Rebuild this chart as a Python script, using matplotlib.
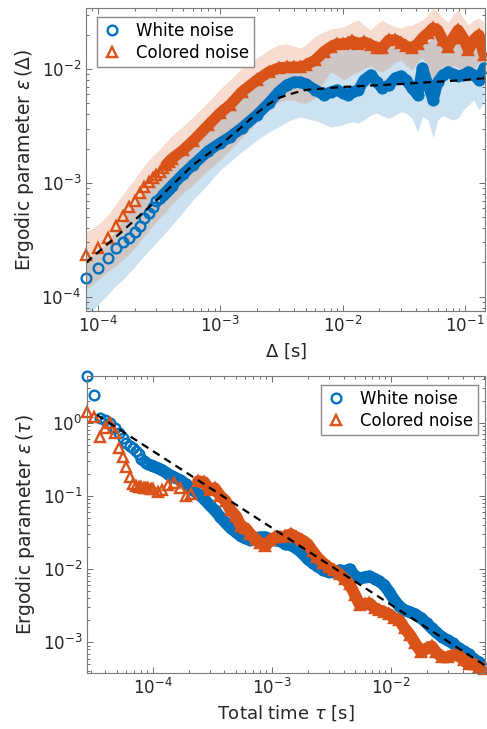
import matplotlib
matplotlib.use("Agg")
import matplotlib.pyplot as plt
import numpy as np

# ---- top panel: epsilon(Delta) ----
delta = [8e-5, 1e-4, 1.2e-4, 1.4e-4, 1.6e-4, 1.8e-4, 2e-4, 2.2e-4, 2.4e-4, 2.6e-4, 2.8e-4,
         3e-4, 3.2e-4, 3.4e-4, 3.6e-4, 3.8e-4, 4e-4,
         5e-4, 6e-4, 8e-4, 1e-3, 1.2e-3, 1.5e-3, 2e-3, 2.5e-3, 3e-3, 3.5e-3, 4e-3, 4.5e-3,
         5e-3, 6e-3, 7e-3, 8e-3, 9e-3, 1e-2, 1.1e-2, 1.2e-2, 1.35e-2, 1.5e-2, 1.7e-2, 1.9e-2,
         2.1e-2, 2.4e-2, 2.7e-2, 3e-2, 3.3e-2, 3.7e-2, 4.1e-2, 4.5e-2, 5e-2, 5.5e-2, 6e-2,
         6.6e-2, 7.3e-2, 8e-2, 8.8e-2, 9.7e-2, 0.107, 0.118, 0.13, 0.143]

white_delta = [1.47e-4, 1.8e-4, 2.2e-4, 2.69e-4, 3.03e-4, 3.3e-4, 3.72e-4, 4.2e-4, 4.93e-4, 5.46e-4, 6.15e-4,
               6.95e-4, 7.39e-4, 7.85e-4, 8.34e-4, 8.86e-4, 9.4e-4,
               1.2e-3, 1.44e-3, 1.91e-3, 2.24e-3, 2.53e-3, 3.04e-3, 3.95e-3, 5.03e-3, 6.28e-3, 7.24e-3,
               7.69e-3, 7.69e-3, 7.38e-3, 6.55e-3, 5.91e-3, 6.28e-3, 6.55e-3, 6.15e-3, 5.91e-3, 6.28e-3,
               6.55e-3, 8.0e-3, 8.86e-3, 7.69e-3, 6.81e-3, 7.24e-3, 8.34e-3, 8.68e-3, 8.0e-3, 6.81e-3,
               5.91e-3, 1.02e-2, 7.24e-3, 5.35e-3, 7.69e-3, 8.86e-3, 9.42e-3, 9.0e-3, 8.68e-3, 8.86e-3,
               9.42e-3, 8.86e-3, 8.0e-3, 1.02e-2]
white_delta_lo = [6.5e-5, 8.5e-5, 1.04e-4, 1.25e-4, 1.41e-4, 1.62e-4, 1.83e-4, 2.07e-4, 2.29e-4, 2.53e-4, 2.75e-4,
                  2.98e-4, 3.23e-4, 3.43e-4, 3.72e-4, 3.95e-4, 4.2e-4,
                  5.57e-4, 7.1e-4, 9.8e-4, 1.3e-3, 1.53e-3, 1.87e-3, 2.38e-3, 2.8e-3, 3.1e-3, 3.43e-3,
                  3.64e-3, 3.79e-3, 3.7e-3, 3.5e-3, 3.3e-3, 3.1e-3, 3.16e-3, 3.23e-3, 3.36e-3, 3.43e-3,
                  3.36e-3, 3.57e-3, 3.95e-3, 4.11e-3, 3.87e-3, 3.7e-3, 3.95e-3, 4.2e-3, 4.11e-3, 3.7e-3,
                  2.8e-3, 3.79e-3, 3.57e-3, 2.48e-3, 3.57e-3, 3.87e-3, 3.7e-3, 3.57e-3, 3.7e-3, 4.37e-3,
                  4.83e-3, 5.35e-3, 4.37e-3, 5.03e-3]
white_delta_hi = [2.15e-4, 2.48e-4, 3.04e-4, 3.86e-4, 4.73e-4, 5.67e-4, 6.4e-4, 7.5e-4, 8.5e-4, 9.4e-4, 1.02e-3,
                  1.08e-3, 1.15e-3, 1.24e-3, 1.32e-3, 1.41e-3, 1.49e-3,
                  1.8e-3, 2.15e-3, 2.9e-3, 3.7e-3, 4.4e-3, 5.7e-3, 7.3e-3, 8.6e-3, 9.3e-3, 9.5e-3,
                  9.5e-3, 9.5e-3, 9.8e-3, 1.08e-2, 1.25e-2, 1.38e-2, 1.45e-2, 1.45e-2, 1.48e-2, 1.52e-2,
                  1.45e-2, 1.5e-2, 1.45e-2, 1.38e-2, 1.36e-2, 1.55e-2, 1.58e-2, 1.5e-2, 1.42e-2, 1.38e-2,
                  1.45e-2, 1.62e-2, 1.75e-2, 1.9e-2, 1.85e-2, 1.6e-2, 1.45e-2, 1.62e-2, 1.85e-2, 1.62e-2,
                  1.38e-2, 1.58e-2, 1.7e-2, 1.25e-2]

colored_delta = [2.33e-4, 2.69e-4, 3.3e-4, 4.2e-4, 5.14e-4, 6.16e-4, 6.95e-4, 8.17e-4, 9.23e-4, 1.02e-3, 1.11e-3,
                 1.17e-3, 1.25e-3, 1.35e-3, 1.44e-3, 1.53e-3, 1.62e-3,
                 1.95e-3, 2.34e-3, 3.22e-3, 4.11e-3, 4.83e-3, 6.28e-3, 8.0e-3, 9.42e-3, 1.02e-2, 1.04e-2,
                 1.04e-2, 1.04e-2, 1.08e-2, 1.2e-2, 1.41e-2, 1.56e-2, 1.66e-2, 1.66e-2, 1.69e-2, 1.76e-2,
                 1.66e-2, 1.73e-2, 1.63e-2, 1.53e-2, 1.53e-2, 1.8e-2, 1.8e-2, 1.69e-2, 1.59e-2, 1.53e-2,
                 1.66e-2, 1.87e-2, 2.07e-2, 2.29e-2, 2.2e-2, 1.8e-2, 1.56e-2, 1.87e-2, 2.2e-2, 1.87e-2,
                 1.47e-2, 1.8e-2, 1.99e-2, 1.33e-2]
colored_delta_lo = [1.15e-4, 1.41e-4, 1.66e-4, 1.87e-4, 2.11e-4, 2.38e-4, 2.69e-4, 3.04e-4, 3.43e-4, 3.79e-4, 4.2e-4,
                    4.55e-4, 4.93e-4, 5.24e-4, 5.57e-4, 6.04e-4, 6.41e-4,
                    8.17e-4, 9.6e-4, 1.3e-3, 1.59e-3, 1.95e-3, 2.48e-3, 3.43e-3, 4.37e-3, 5.14e-3, 5.35e-3,
                    5.35e-3, 5.03e-3, 5.03e-3, 5.57e-3, 7.69e-3, 9.42e-3, 8.86e-3, 8.0e-3, 8.34e-3, 9.0e-3,
                    9.42e-3, 1.02e-2, 1.06e-2, 9.8e-3, 9.42e-3, 1.02e-2, 1.15e-2, 1.2e-2, 1.08e-2, 9.8e-3,
                    1.15e-2, 1.25e-2, 9.8e-3, 8.0e-3, 9.42e-3, 1.06e-2, 9.8e-3, 1.08e-2, 1.02e-2, 8.34e-3,
                    7.69e-3, 9.8e-3, 1.15e-2, 9.8e-3]
colored_delta_hi = [3.7e-4, 4.3e-4, 5.2e-4, 6.5e-4, 7.9e-4, 9.4e-4, 1.08e-3, 1.25e-3, 1.42e-3, 1.58e-3, 1.72e-3,
                    1.84e-3, 1.97e-3, 2.12e-3, 2.27e-3, 2.42e-3, 2.57e-3,
                    3.16e-3, 3.79e-3, 5.14e-3, 6.68e-3, 8.0e-3, 1.02e-2, 1.25e-2, 1.47e-2, 1.63e-2, 1.66e-2,
                    1.59e-2, 1.53e-2, 1.63e-2, 1.95e-2, 2.11e-2, 2.24e-2, 2.29e-2, 2.34e-2, 2.43e-2, 2.58e-2,
                    2.69e-2, 2.43e-2, 2.2e-2, 2.48e-2, 2.69e-2, 2.48e-2, 2.34e-2, 2.29e-2, 2.38e-2, 2.43e-2,
                    2.58e-2, 2.69e-2, 2.98e-2, 3.43e-2, 3.16e-2, 2.8e-2, 2.58e-2, 2.98e-2, 3.3e-2, 2.8e-2,
                    2.43e-2, 2.69e-2, 2.8e-2, 2.58e-2]

theory_delta_x = [8e-5, 1.5e-4, 3e-4, 6e-4, 1e-3, 1.5e-3, 2e-3, 2.5e-3, 3e-3, 4e-3, 5e-3, 1e-2, 3e-2, 0.1, 0.15]
theory_delta_y = [1.99e-4, 3.57e-4, 6.98e-4, 1.44e-3, 2.15e-3, 3.1e-3, 4.11e-3, 4.93e-3, 5.57e-3, 6.15e-3,
                  6.55e-3, 6.95e-3, 7.38e-3, 8.0e-3, 8.34e-3]

# ---- bottom panel: epsilon(tau) ----
tau = [2.8e-5, 3.2e-5, 3.6e-5, 4.0e-5, 4.4e-5, 4.8e-5, 5.2e-5, 5.6e-5, 6.0e-5, 6.4e-5, 6.8e-5, 7.2e-5,
       7.6e-5, 8.0e-5, 8.4e-5, 8.8e-5, 9.2e-5, 9.6e-5,
       1e-4, 1.1e-4, 1.2e-4, 1.35e-4, 1.5e-4, 1.7e-4, 1.9e-4, 2.1e-4, 2.4e-4, 2.7e-4,
       3e-4, 3.3e-4, 3.7e-4, 4.1e-4, 4.5e-4, 5e-4, 5.5e-4, 6e-4, 6.6e-4, 7.3e-4,
       8e-4, 8.8e-4, 9.7e-4, 1.07e-3, 1.18e-3, 1.3e-3, 1.45e-3, 1.6e-3, 1.8e-3, 2e-3,
       2.2e-3, 2.4e-3, 2.7e-3, 3e-3, 3.3e-3, 3.7e-3, 4.1e-3, 4.5e-3, 5e-3, 5.5e-3,
       6e-3, 6.6e-3, 7.3e-3, 8e-3, 8.8e-3, 9.7e-3, 1.07e-2, 1.18e-2, 1.3e-2, 1.45e-2,
       1.6e-2, 1.8e-2, 2e-2, 2.2e-2, 2.4e-2, 2.7e-2, 3e-2, 3.3e-2, 3.7e-2, 4.1e-2,
       4.5e-2, 5e-2, 5.5e-2, 6.1e-2]

white_tau = [4.4, 2.42, 1.17, 1.1, 1.0, 0.855, 0.73, 0.623, 0.532, 0.484, 0.455, 0.413,
             0.376, 0.321, 0.302, 0.283, 0.275, 0.265,
             0.258, 0.242, 0.227, 0.2, 0.182, 0.166, 0.146, 0.125, 0.107, 0.091,
             0.0753, 0.0643, 0.0515, 0.0427, 0.0365, 0.0321, 0.0283, 0.0266, 0.0249, 0.0266,
             0.0274, 0.0274, 0.0258, 0.0249, 0.0242, 0.022, 0.0213, 0.0194, 0.0166, 0.0137,
             0.0121, 0.011, 0.00969, 0.0091, 0.0091, 0.00969, 0.0094, 0.01, 0.00802, 0.00753,
             0.00777, 0.00802, 0.0074, 0.0068, 0.00604, 0.00484, 0.00376, 0.00311, 0.00274, 0.00258,
             0.00242, 0.00213, 0.00182, 0.00156, 0.00137, 0.00117, 0.00106, 0.00097, 0.000828, 0.000753,
             0.000685, 0.000585, 0.000532, 0.000441]
colored_tau = [1.41, 1.21, 0.643, 0.855, 1.0, 0.73, 0.455, 0.342, 0.25, 0.182, 0.146, 0.137,
               0.133, 0.133, 0.129, 0.129, 0.128, 0.126,
               0.125, 0.1135, 0.121, 0.1415, 0.151, 0.129, 0.1, 0.107, 0.16, 0.1556,
               0.121, 0.129, 0.1, 0.0855, 0.0643, 0.0532, 0.0388, 0.0365, 0.0302, 0.0258,
               0.0227, 0.0207, 0.0249, 0.0274, 0.0274, 0.0283, 0.0302, 0.0274, 0.0249, 0.022,
               0.0177, 0.0146, 0.0121, 0.0106, 0.00969, 0.00855, 0.0073, 0.00623, 0.0044, 0.00321,
               0.00332, 0.00342, 0.00292, 0.00274, 0.00258, 0.00242, 0.00213, 0.002, 0.00156, 0.00125,
               0.00097, 0.00073, 0.000828, 0.000881, 0.00073, 0.000623, 0.000623, 0.000664, 0.000664, 0.000567,
               0.0005, 0.0005, 0.000455, 0.000427]

theory_tau_x = [3.4e-5, 6.2e-2]
theory_tau_y = [1.29, 4.8e-4]

BLUE = "#0072BD"
ORANGE = "#D95319"
GREY = "#262626"

plt.rcParams["font.family"] = "DejaVu Sans"
plt.rcParams["mathtext.fontset"] = "dejavusans"

fig = plt.figure(figsize=(4.87, 7.29), dpi=100)
ax1 = fig.add_axes([0.1766, 0.5734, 0.8193, 0.4156])
ax2 = fig.add_axes([0.1786, 0.0768, 0.8172, 0.4074])


def style_axis(ax):
    ax.set_xscale("log")
    ax.set_yscale("log")
    ax.tick_params(which="both", direction="in", top=True, right=True,
                   colors="#555555", labelcolor=GREY, labelsize=12, width=0.6)
    ax.tick_params(which="major", length=4.5)
    ax.tick_params(which="minor", length=2.5)
    for s in ax.spines.values():
        s.set_color("#7a7a7a")
        s.set_linewidth(0.8)


# top panel
x = np.array(delta)
ax1.fill_between(x, white_delta_lo, white_delta_hi, color=BLUE, alpha=0.2, lw=0)
ax1.plot(x[13:], white_delta[13:], color=BLUE, lw=8, solid_capstyle="round")
h1, = ax1.plot(x, white_delta, "o", mfc="none", mec=BLUE, ms=7, mew=1.7,
               clip_on=False, label="White noise")
ax1.fill_between(x, colored_delta_lo, colored_delta_hi, color=ORANGE, alpha=0.2, lw=0)
ax1.plot(x[14:], colored_delta[14:], color=ORANGE, lw=8, solid_capstyle="round")
h2, = ax1.plot(x, colored_delta, "^", mfc="none", mec=ORANGE, ms=7.5, mew=1.7,
               clip_on=False, label="Colored noise")
ax1.plot(theory_delta_x, theory_delta_y, color="black", lw=1.6, ls=(0, (3.5, 2.5)))
style_axis(ax1)
ax1.set_xlim(8e-5, 0.146)
ax1.set_ylim(7.5e-5, 3.43e-2)
ax1.set_xlabel(r"$\Delta$ [s]", fontsize=13, color=GREY)
ax1.set_ylabel(r"Ergodic parameter $\epsilon\,(\Delta)$", fontsize=13.5, color=GREY)
ax1.legend(handles=[h1, h2], loc="upper left", bbox_to_anchor=(0.028, 0.97),
           borderaxespad=0, fontsize=12, fancybox=False, edgecolor="#8c8c8c",
           framealpha=1, handlelength=1.2, handletextpad=0.8, labelspacing=0.25,
           borderpad=0.3)

# bottom panel
t = np.array(tau)
ax2.plot(t[18:], white_tau[18:], color=BLUE, lw=8.5, solid_capstyle="round")
h3, = ax2.plot(t, white_tau, "o", mfc="none", mec=BLUE, ms=7, mew=1.7,
               clip_on=False, label="White noise")
ax2.plot(t[26:], colored_tau[26:], color=ORANGE, lw=8.5, solid_capstyle="round")
h4, = ax2.plot(t, colored_tau, "^", mfc="none", mec=ORANGE, ms=7.5, mew=1.7,
               clip_on=False, label="Colored noise")
ax2.plot(theory_tau_x, theory_tau_y, color="black", lw=1.6, ls=(0, (3.5, 2.5)))
style_axis(ax2)
ax2.set_xlim(2.8e-5, 0.0616)
ax2.set_ylim(3.8e-4, 4.4)
ax2.set_xlabel(r"Total time $\tau$ [s]", fontsize=13, color=GREY)
ax2.set_ylabel(r"Ergodic parameter $\epsilon\,(\tau)$", fontsize=13.5, color=GREY)
ax2.legend(handles=[h3, h4], loc="upper right", bbox_to_anchor=(0.982, 0.97),
           borderaxespad=0, fontsize=12, fancybox=False, edgecolor="#8c8c8c",
           framealpha=1, handlelength=1.2, handletextpad=0.8, labelspacing=0.25,
           borderpad=0.3)

fig.savefig("out.png", dpi=100)
